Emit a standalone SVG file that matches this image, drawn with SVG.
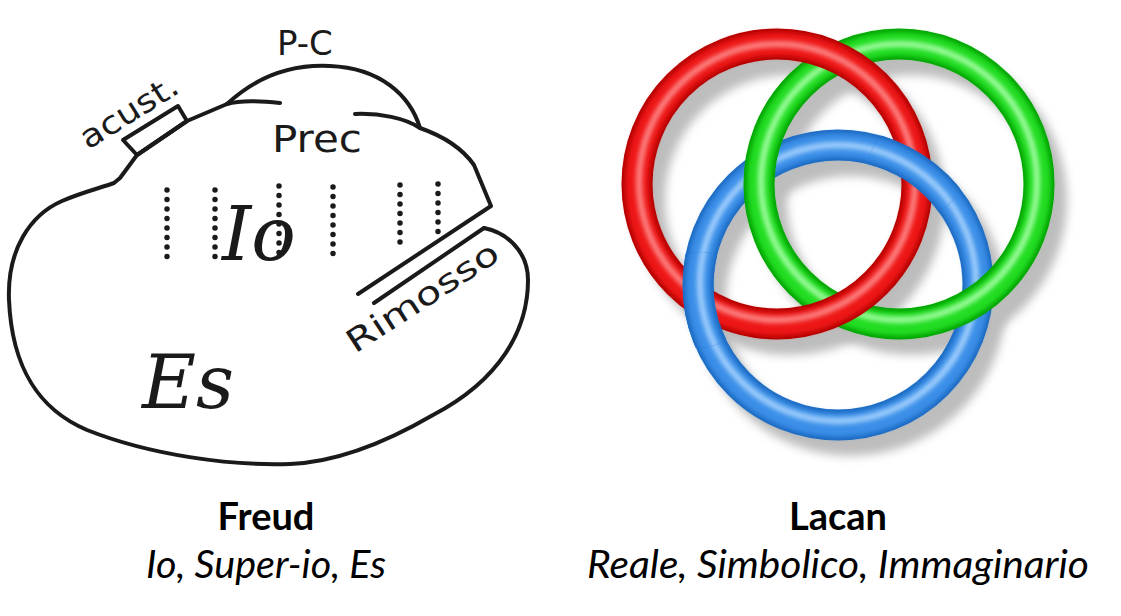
<svg xmlns="http://www.w3.org/2000/svg" width="1121" height="616" viewBox="0 0 1121 616">
<defs>
<filter id="blur" x="-20%" y="-20%" width="140%" height="140%"><feGaussianBlur stdDeviation="5"/></filter>
<filter id="soft"><feGaussianBlur stdDeviation="2.5"/></filter>
<clipPath id="c1"><circle cx="699" cy="300" r="48"/><circle cx="916" cy="169" r="48"/></clipPath>
</defs>
<style>
.ol{fill:none;stroke:#1a1a1a;stroke-width:4;stroke-linecap:round;stroke-linejoin:round}
.dots{stroke:#1a1a1a;stroke-width:5.5;stroke-linecap:round;stroke-dasharray:0 9.5}
.hand{font-family:"DejaVu Sans","Liberation Sans",sans-serif;fill:#1a1a1a}
.script{font-family:"DejaVu Serif","Liberation Serif",serif;font-style:italic;fill:#1a1a1a}
.cap{font-family:Lato,"Open Sans",sans-serif;font-size:38px;fill:#000;text-anchor:middle}
.ring{fill:none}
.sh{fill:none;stroke:#bdbdbd;stroke-width:30;filter:url(#blur)}
.rd{stroke:#b00000;stroke-width:31}.rm{stroke:#ee1616;stroke-width:24;filter:url(#soft)}.rl{stroke:#ff8c8c;stroke-width:6;filter:url(#soft)}
.gd{stroke:#00a000;stroke-width:31}.gm{stroke:#22dd22;stroke-width:24;filter:url(#soft)}.gl{stroke:#a8ffa8;stroke-width:6;filter:url(#soft)}
.bd{stroke:#1a68c0;stroke-width:31}.bm{stroke:#3a8fe8;stroke-width:24;filter:url(#soft)}.bl{stroke:#a8d4ff;stroke-width:6;filter:url(#soft)}
</style>
<rect width="1121" height="616" fill="#fff"/>
<g id="freud">
<path class="ol" d="M484,228 C505,232 528,250 528,280 C528,330 500,380 433,415 C390,440 340,462 290,464 C230,466 150,455 87,430 C40,410 12,370 9,300 C7,250 30,215 62,201 C80,193 100,188 114,183 L120,178 L137,155 L187,121 L227,104"/>
<path class="ol" d="M227,104 C255,78 290,64 330,66 C380,68 410,95 420,128 C440,135 460,145 474,165 L491,206 L358,294"/>
<path class="ol" d="M484,228 L374,303"/>
<path class="ol" d="M227,104 C240,100 262,101 280,103"/>
<path class="ol" d="M420,128 C405,118 380,113 355,114"/>
<path class="ol" d="M123,140 L178,106 L187,121 L137,155 Z"/>
<line class="dots" x1="167" y1="190" x2="167" y2="262"/>
<line class="dots" x1="215" y1="190" x2="215" y2="262"/>
<line class="dots" x1="279" y1="186" x2="279" y2="262"/>
<line class="dots" x1="333" y1="187" x2="333" y2="258"/>
<line class="dots" x1="400" y1="185" x2="400" y2="250"/>
<line class="dots" x1="438" y1="184" x2="438" y2="232"/>
<text class="hand" font-size="34" x="277" y="55">P-C</text>
<text class="hand" font-size="38" x="272" y="152" textLength="90" lengthAdjust="spacingAndGlyphs">Prec</text>
<text class="hand" font-size="32" transform="translate(88,150) rotate(-32)" textLength="110" lengthAdjust="spacingAndGlyphs">acust.</text>
<text class="hand" font-size="32" transform="translate(355,354) rotate(-33)" textLength="175" lengthAdjust="spacingAndGlyphs">Rimosso</text>
<text class="script" font-size="74" x="222" y="260">Io</text>
<text class="script" font-size="74" x="142" y="408">Es</text>
</g>
<g id="lacan">
<circle class="sh" cx="790" cy="200" r="140"/>
<circle class="sh" cx="912" cy="200" r="140"/>
<circle class="sh" cx="851" cy="301" r="140"/>
<g id="blue"><circle class="ring bd" cx="838" cy="285" r="140"/><circle class="ring bm" cx="838" cy="285" r="140"/><circle class="ring bl" cx="838" cy="283" r="138"/></g>
<g id="green"><circle class="ring gd" cx="899" cy="184" r="140"/><circle class="ring gm" cx="899" cy="184" r="140"/><circle class="ring gl" cx="899" cy="182" r="138"/></g>
<g id="red"><circle class="ring rd" cx="777" cy="184" r="140"/><circle class="ring rm" cx="777" cy="184" r="140"/><circle class="ring rl" cx="777" cy="182" r="138"/></g>
<use id="blue-over" href="#blue" clip-path="url(#c1)"/>
</g>
<g id="captions">
<text class="cap" x="266" y="530" font-weight="bold">Freud</text>
<text class="cap" x="266" y="578" font-style="italic" textLength="240" lengthAdjust="spacingAndGlyphs">Io, Super-io, Es</text>
<text class="cap" x="838" y="530" font-weight="bold">Lacan</text>
<text class="cap" x="838" y="578" font-style="italic" textLength="502" lengthAdjust="spacingAndGlyphs">Reale, Simbolico, Immaginario</text>
</g>
</svg>
